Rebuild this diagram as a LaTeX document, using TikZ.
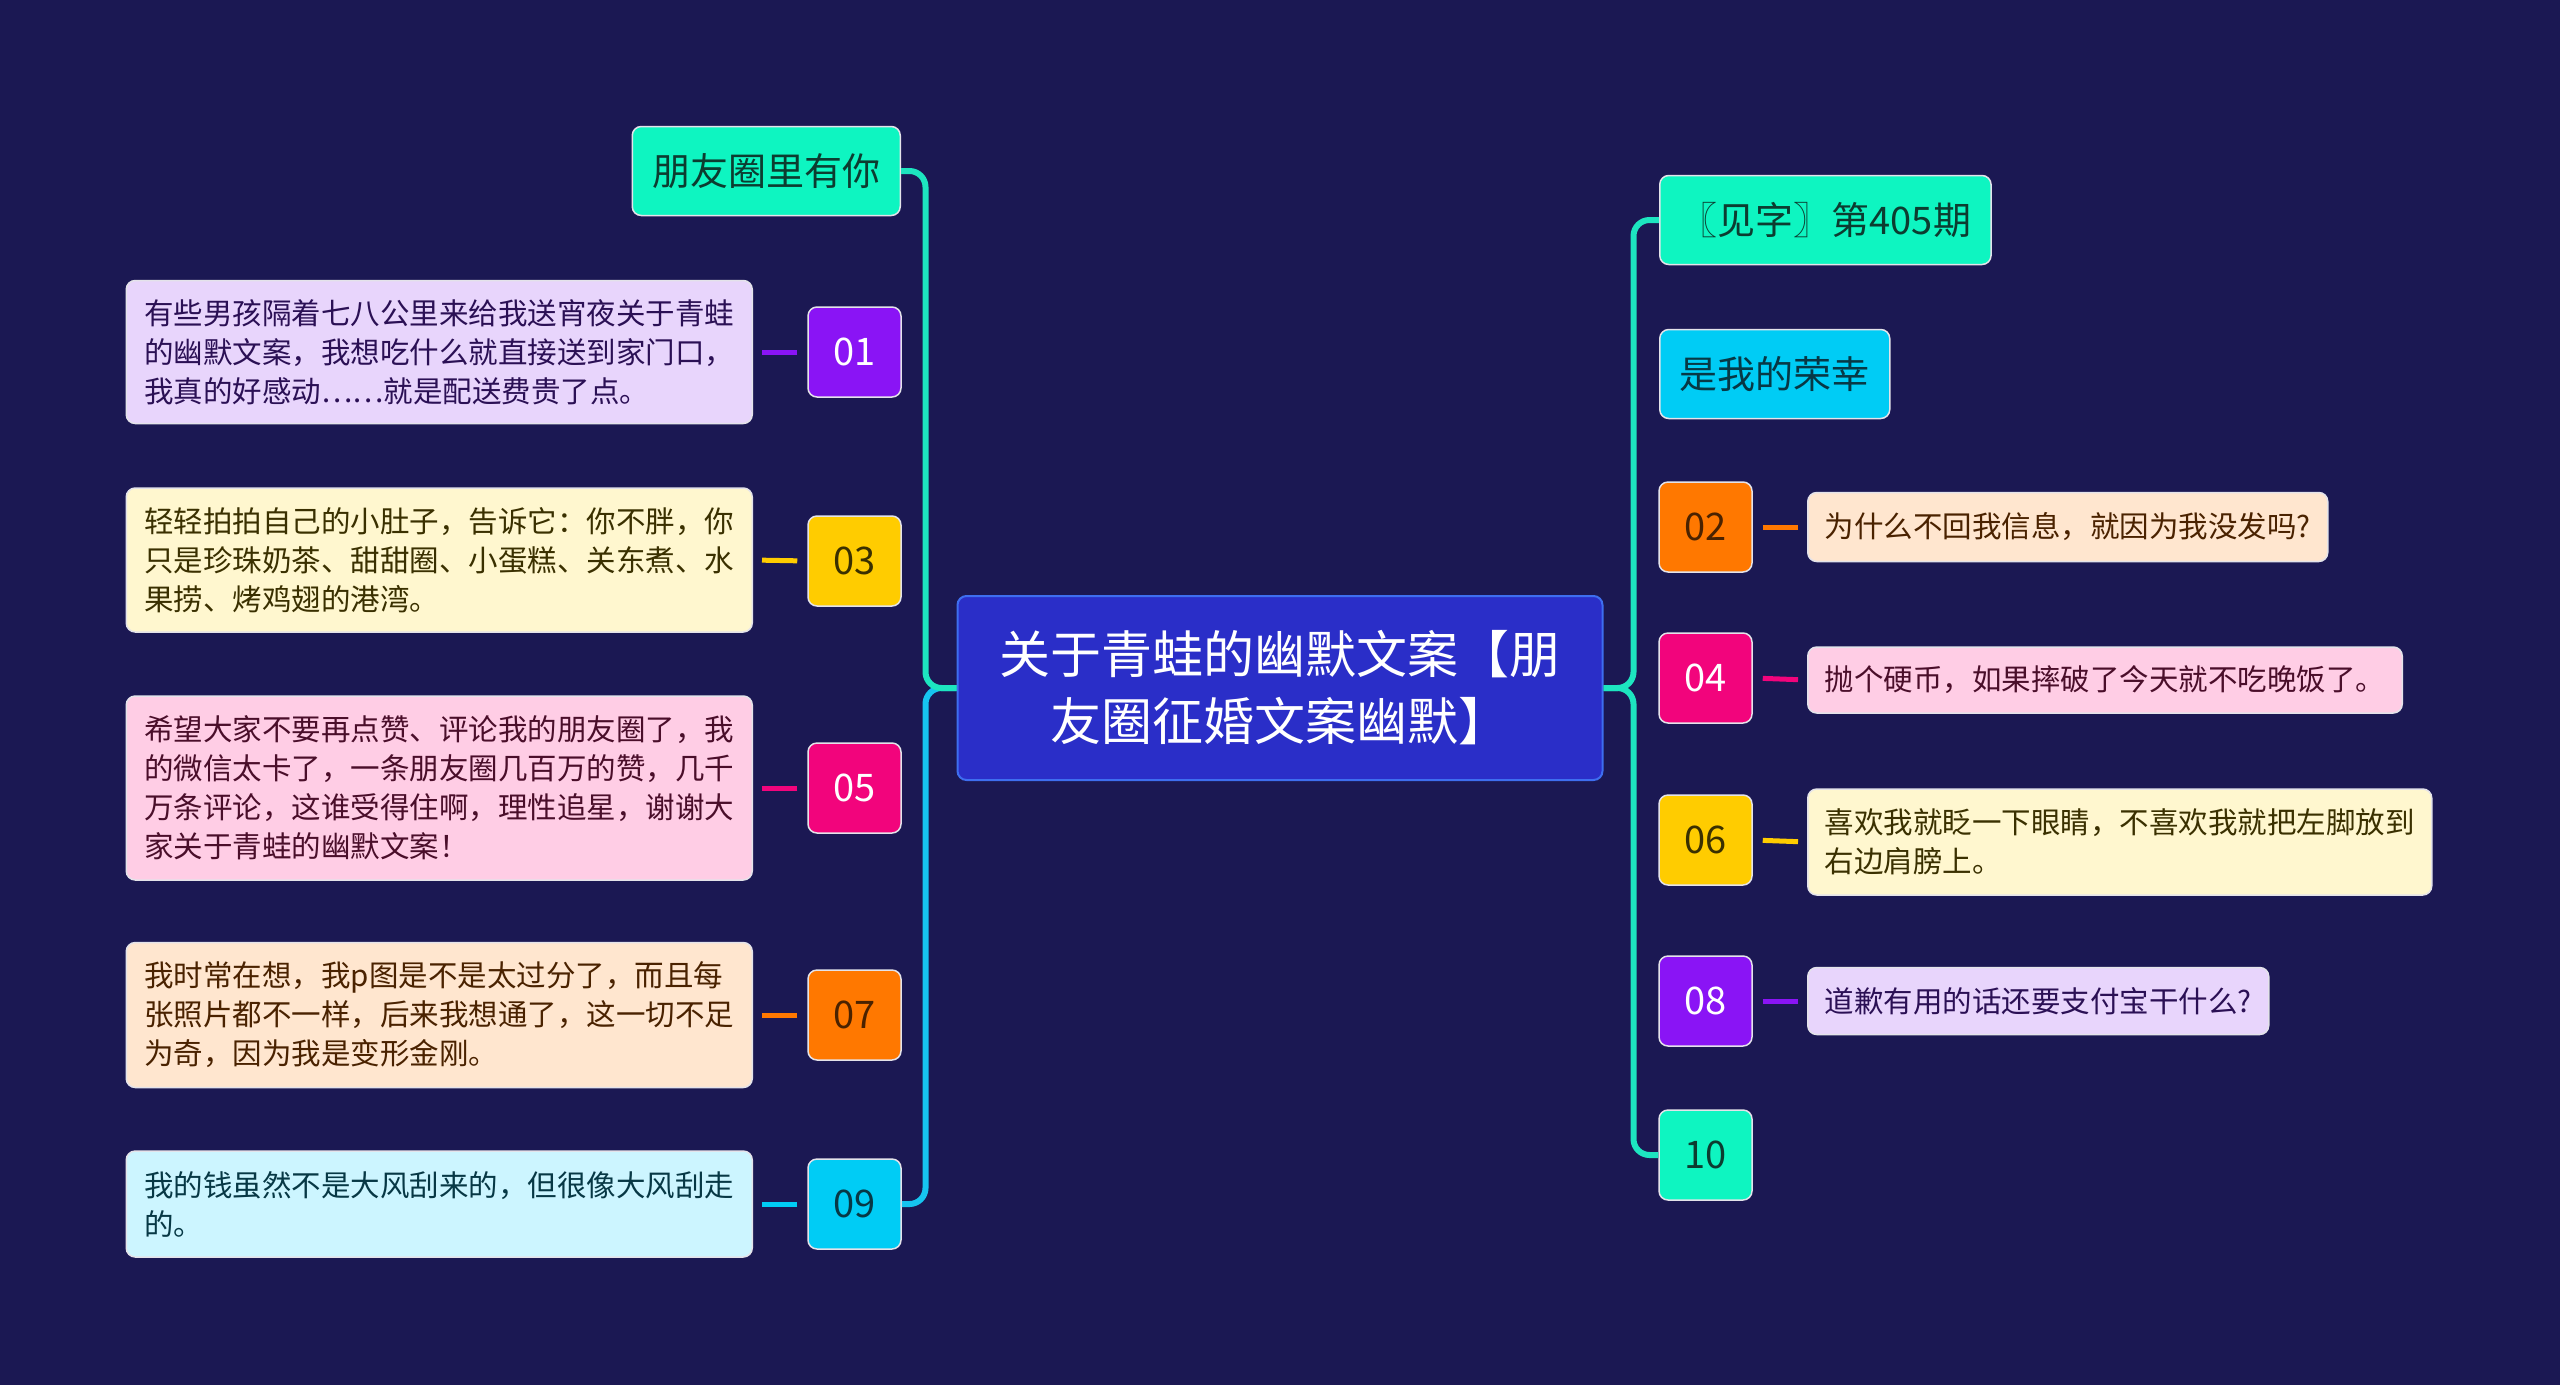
\documentclass[tikz,border=0pt]{standalone}
\usepackage{fontspec}
\setmainfont{Noto Sans CJK SC}
\definecolor{mmbg}{RGB}{27,24,83}
\definecolor{mmroot}{RGB}{42,46,200}
\definecolor{mmrootln}{RGB}{62,110,240}
\definecolor{mmteal}{RGB}{14,245,193}
\definecolor{mmcyan}{RGB}{0,204,245}
\definecolor{mmpurple}{RGB}{138,20,245}
\definecolor{mmyellow}{RGB}{255,204,0}
\definecolor{mmpink}{RGB}{242,4,124}
\definecolor{mmorange}{RGB}{255,120,0}
\definecolor{mmlpurple}{RGB}{232,213,252}
\definecolor{mmlyellow}{RGB}{255,247,207}
\definecolor{mmlpink}{RGB}{255,205,229}
\definecolor{mmlorange}{RGB}{255,230,207}
\definecolor{mmlcyan}{RGB}{204,245,255}
\definecolor{mmtealln}{RGB}{29,229,192}
\definecolor{mmcyanln}{RGB}{22,196,240}
\definecolor{mmdteal}{RGB}{12,60,48}
\definecolor{mmdcyan}{RGB}{7,56,69}
\definecolor{mmdpurple}{RGB}{43,16,85}
\definecolor{mmdyellow}{RGB}{58,48,0}
\definecolor{mmdpink}{RGB}{74,14,42}
\definecolor{mmdorange}{RGB}{74,34,0}

\begin{document}
\begin{tikzpicture}[x=1pt, y=-1pt,
  box/.style={draw=white!88!mmbg, line width=1.5pt, rounded corners=9pt, inner sep=0pt},
  numbox/.style={box, minimum width=93pt, minimum height=90pt, font=\fontsize{38}{40}\selectfont},
  labbox/.style={box, minimum height=89pt, inner xsep=20pt, font=\fontsize{38}{40}\selectfont},
  txtbox/.style={box, align=left, inner xsep=17pt, font=\fontsize{29.5}{39}\selectfont},
  link/.style={line width=5pt, shorten <=10pt, shorten >=9pt},
  brace/.style={line width=6pt, rounded corners=16pt}]
\fill[mmbg] (0,0) rectangle (2560,1385);
%% root
\node[box, fill=mmroot, draw=mmrootln, line width=2pt, text=white, align=center,
  minimum width=645pt, minimum height=184pt, font=\fontsize{51}{67}\selectfont]
  (root) at (1280,688) {关于青蛙的幽默文案【朋\\友圈征婚文案幽默】};
%% left branch
\node[labbox, fill=mmteal, text=mmdteal, anchor=east] (friend) at (901,171) {朋友圈里有你};
\node[numbox, fill=mmpurple, text=white] (n01) at (854.5,352) {01};
\node[numbox, fill=mmyellow, text=mmdyellow] (n03) at (854.5,561) {03};
\node[numbox, fill=mmpink, text=white] (n05) at (854.5,788) {05};
\node[numbox, fill=mmorange, text=mmdorange] (n07) at (854.5,1015) {07};
\node[numbox, fill=mmcyan, text=mmdcyan] (n09) at (854.5,1204) {09};
\node[txtbox, fill=mmlpurple, text=mmdpurple, minimum width=626pt, minimum height=143pt, anchor=east]
  (t01) at (753,352) {有些男孩隔着七八公里来给我送宵夜关于青蛙\\的幽默文案，我想吃什么就直接送到家门口，\\我真的好感动……就是配送费贵了点。};
\node[txtbox, fill=mmlyellow, text=mmdyellow, minimum width=626pt, minimum height=144pt, anchor=east]
  (t03) at (753,560) {轻轻拍拍自己的小肚子，告诉它：你不胖，你\\只是珍珠奶茶、甜甜圈、小蛋糕、关东煮、水\\果捞、烤鸡翅的港湾。};
\node[txtbox, fill=mmlpink, text=mmdpink, minimum width=626pt, minimum height=184pt, anchor=east]
  (t05) at (753,788) {希望大家不要再点赞、评论我的朋友圈了，我\\的微信太卡了，一条朋友圈几百万的赞，几千\\万条评论，这谁受得住啊，理性追星，谢谢大\\家关于青蛙的幽默文案！};
\node[txtbox, fill=mmlorange, text=mmdorange, minimum width=626pt, minimum height=145pt, anchor=east]
  (t07) at (753,1015) {我时常在想，我p图是不是太过分了，而且每\\张照片都不一样，后来我想通了，这一切不足\\为奇，因为我是变形金刚。};
\node[txtbox, fill=mmlcyan, text=mmdcyan, minimum width=626pt, minimum height=106pt, anchor=east]
  (t09) at (753,1204) {我的钱虽然不是大风刮来的，但很像大风刮走\\的。};
\draw[link, mmpurple] (n01.west) -- (t01.east);
\draw[link, mmyellow] (n03.west) -- (t03.east);
\draw[link, mmpink] (n05.west) -- (t05.east);
\draw[link, mmorange] (n07.west) -- (t07.east);
\draw[link, mmcyan] (n09.west) -- (t09.east);
\draw[brace, mmcyanln] (root.west) -- ++(-31,0) |- (n09.east);
\draw[brace, mmtealln] (root.west) -- ++(-31,0) |- (friend.east);
%% right branch
\node[labbox, fill=mmteal, text=mmdteal, anchor=west] (jianzi) at (1659,220) {〖见字〗第405期};
\node[labbox, fill=mmcyan, text=mmdcyan, anchor=west] (honor) at (1659,374) {是我的荣幸};
\node[numbox, fill=mmorange, text=mmdorange] (n02) at (1705.5,527) {02};
\node[numbox, fill=mmpink, text=white] (n04) at (1705.5,678) {04};
\node[numbox, fill=mmyellow, text=mmdyellow] (n06) at (1705.5,840) {06};
\node[numbox, fill=mmpurple, text=white] (n08) at (1705.5,1001) {08};
\node[numbox, fill=mmteal, text=mmdteal] (n10) at (1705.5,1155) {10};
\node[txtbox, fill=mmlorange, text=mmdorange, minimum height=69pt, anchor=west]
  (t02) at (1807,527) {为什么不回我信息，就因为我没发吗?};
\node[txtbox, fill=mmlpink, text=mmdpink, minimum height=66pt, anchor=west]
  (t04) at (1807,680) {抛个硬币，如果摔破了今天就不吃晚饭了。};
\node[txtbox, fill=mmlyellow, text=mmdyellow, minimum height=106pt, anchor=west]
  (t06) at (1807,842) {喜欢我就眨一下眼睛，不喜欢我就把左脚放到\\右边肩膀上。};
\node[txtbox, fill=mmlpurple, text=mmdpurple, minimum height=67pt, anchor=west]
  (t08) at (1807,1001) {道歉有用的话还要支付宝干什么?};
\draw[link, mmorange] (n02.east) -- (t02.west);
\draw[link, mmpink] (n04.east) -- (t04.west);
\draw[link, mmyellow] (n06.east) -- (t06.west);
\draw[link, mmpurple] (n08.east) -- (t08.west);
\draw[brace, mmtealln] (root.east) -- ++(30,0) |- (jianzi.west);
\draw[brace, mmtealln] (root.east) -- ++(30,0) |- (n10.west);
\end{tikzpicture}
\end{document}
